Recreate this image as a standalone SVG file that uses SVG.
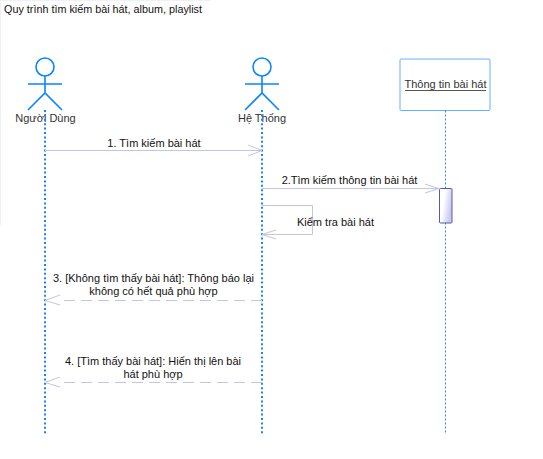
<svg xmlns="http://www.w3.org/2000/svg" width="543" height="459" viewBox="0 0 543 459">
<style>
text{font-family:"Liberation Sans",Arial,sans-serif;font-size:11px;fill:#111}
.c{text-anchor:middle}
.n{fill:#333}
.a{fill:none;stroke:#0a84ff;stroke-width:1.6}
.l{stroke:#1a86f0;stroke-width:2;stroke-dasharray:2 2.4;fill:none}
.m{stroke:#c4c4e4;stroke-width:1;fill:none}
.d{stroke:#c4c4e4;stroke-width:1;fill:none;stroke-dasharray:11 6}
</style>
<defs>
<linearGradient id="g" x1="0" y1="0" x2="1" y2="0.4"><stop offset="0.4" stop-color="#fff"/><stop offset="1" stop-color="#c8c8f0"/></linearGradient>
<g id="actor"><circle cx="0" cy="67" r="9" class="a"/><path class="a" d="M0 76V93M-17 84H17M-17 110L0 93L17 110"/></g>
</defs>
<rect width="543" height="459" fill="#fff"/>
<path d="M0.5 0V225" stroke="#eef0fa" fill="none"/>
<path d="M0 0.5H210" stroke="#eef0fa" fill="none"/>
<text x="4" y="13" style="font-size:10.8px">Quy trình tìm kiếm bài hát, album, playlist</text>
<g id="nguoi-dung"><use href="#actor" x="45"/><text class="c n" x="45.500" y="122">Người Dùng</text><path class="l" d="M45 110V434"/></g>
<g id="he-thong"><use href="#actor" x="262"/><text class="c n" x="262" y="122">Hệ Thống</text><path class="l" d="M262 110V434"/></g>
<g id="thong-tin"><rect x="400" y="59" width="90" height="51.500" rx="1" fill="#fff" stroke="#62b0ff" stroke-width="1"/><text class="c n" x="445.500" y="88">Thông tin bài hát</text><path d="M405 90.500H486" stroke="#555" stroke-width="1"/><path d="M445.500 110.500V434" stroke="#2a8cf0" stroke-dasharray="2 2" fill="none"/><rect x="439.500" y="188.500" width="12.500" height="34.500" rx="1" fill="url(#g)" stroke="#5a5aa8"/></g>
<g id="connectors">
<path class="m" d="M45 150.500H262M248 145L262 150.500L248 156"/>
<path class="m" d="M262 188.500H439M425 184L439 188.500L425 193"/>
<path class="m" d="M262 205.500H312.500V234.500H262M276 230L262 234.500L276 239"/>
<path class="d" d="M262 300.500H60"/><path class="m" d="M60 295L45 300.500L60 305"/>
<path class="d" d="M262 382.500H60"/><path class="m" d="M60 377L45 382.500L60 387"/>
</g>
<text class="c" x="154" y="147">1. Tìm kiếm bài hát</text>
<text class="c" x="349.500" y="184">2.Tìm kiếm thông tin bài hát</text>
<text class="c" x="335.500" y="226">Kiểm tra bài hát</text>
<text class="c" x="153.500" y="282">3. [Không tìm thấy bài hát]: Thông báo lại</text>
<text class="c" x="153.500" y="295">không có hết quả phù hợp</text>
<text class="c" x="153" y="365">4. [Tìm thấy bài hát]: Hiển thị lên bài</text>
<text class="c" x="153" y="378">hát phù hợp</text>
</svg>
